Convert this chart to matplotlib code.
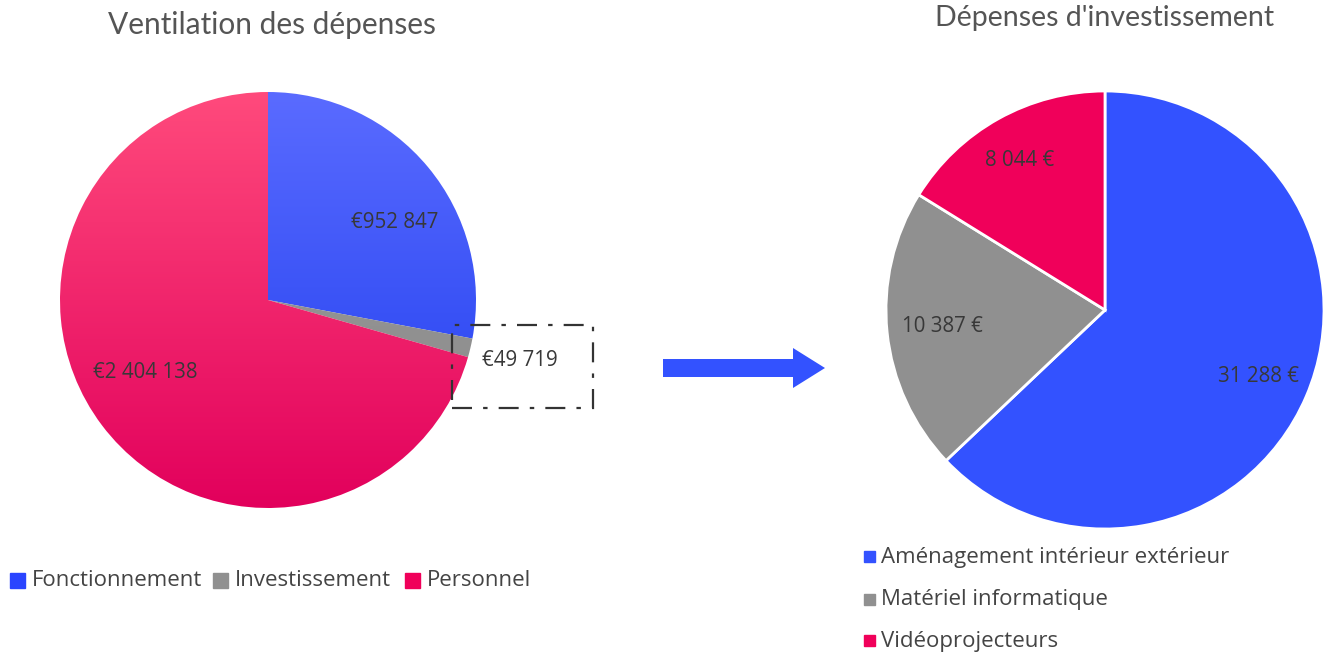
import numpy as np
import matplotlib.pyplot as plt
from matplotlib.colors import LinearSegmentedColormap
from matplotlib.patches import Rectangle

plt.rcParams['font.family'] = ['Open Sans', 'DejaVu Sans']

# data
left_title = 'Ventilation des dépenses'
left_labels = ['Fonctionnement', 'Investissement', 'Personnel']
left_values = [952847, 49719, 2404138]
left_texts = ['€952 847', '€49 719', '€2 404 138']

right_title = "Dépenses d'investissement"
right_labels = ['Aménagement intérieur extérieur', 'Matériel informatique', 'Vidéoprojecteurs']
right_values = [31288, 10387, 8044]
right_texts = ['31 288 €', '10 387 €', '8 044 €']

H = 657
fig = plt.figure(figsize=(13.3, 6.57), dpi=100)
ax = fig.add_axes([0, 0, 1, 1])

# left pie with vertical gradients
lc, lr = (268, H - 300), 208
grads = [('#5a6bff', '#1c3cee'), ('#9a9a9a', '#8a8a8a'), ('#ff4a7c', '#e2005c')]
wedges, _ = ax.pie(left_values, colors=['none'] * 3, startangle=90, counterclock=False,
                   center=lc, radius=lr, frame=True,
                   wedgeprops=dict(linewidth=0))
g = np.linspace(0, 1, 256).reshape(-1, 1)
for w, (top, bot) in zip(wedges, grads):
    cm = LinearSegmentedColormap.from_list('g', [top, bot])
    im = ax.imshow(g, cmap=cm, extent=[lc[0] - lr, lc[0] + lr, lc[1] - lr, lc[1] + lr],
                   origin='upper', aspect='auto', zorder=1)
    im.set_clip_path(w)

txt_kw = dict(fontsize=14.8, color='#383838', ha='center', va='center', zorder=5)
ax.text(395, H - 222, left_texts[0], **txt_kw)
ax.text(520, H - 360, left_texts[1], **txt_kw)
ax.text(145, H - 372, left_texts[2], **txt_kw)

ax.add_patch(Rectangle((452, H - 408), 141, 83, fill=False, edgecolor='#333333',
                       linewidth=1.6, linestyle=(0, (9, 5, 2, 5)), zorder=4))

# right pie
rc, rr = (1105, H - 310), 219
ax.pie(right_values, colors=['#3352ff', '#909090', '#f0005a'], startangle=90,
       counterclock=False, center=rc, radius=rr, frame=True,
       wedgeprops=dict(edgecolor='white', linewidth=2))
ax.text(1259, H - 377, right_texts[0], **txt_kw)
ax.text(942, H - 326, right_texts[1], **txt_kw)
ax.text(1020, H - 160, right_texts[2], **txt_kw)

# arrow
ax.arrow(663, H - 368, 162, 0, width=18, head_width=40, head_length=32,
         length_includes_head=True, color='#3352ff', linewidth=0)

# titles
title_kw = dict(fontsize=21.5, color='#555555', ha='center', va='center', family=['Lato', 'DejaVu Sans'])
ax.text(272, H - 25, left_title, **title_kw)
ax.text(1105, H - 18, right_title, **dict(title_kw, fontsize=20.5))

# legends
leg_kw = dict(fontsize=16, color='#444444', ha='left', va='center')
lcols = ['#2a44ff', '#909090', '#f0005a']
for x, lab, c in zip([10, 213, 405], left_labels, lcols):
    ax.add_patch(Rectangle((x, H - 588), 15, 15, color=c))
    ax.text(x + 22, H - 580, lab, **leg_kw)
for y, lab, c in zip([557, 600, 641], right_labels, ['#3352ff', '#909090', '#f0005a']):
    ax.add_patch(Rectangle((864, H - y - 5), 11, 11, color=c))
    ax.text(881, H - y, lab, **leg_kw)

ax.set_xlim(0, 1330)
ax.set_ylim(0, H)
ax.set_aspect('equal')
ax.axis('off')

fig.savefig('out.png', dpi=100)
